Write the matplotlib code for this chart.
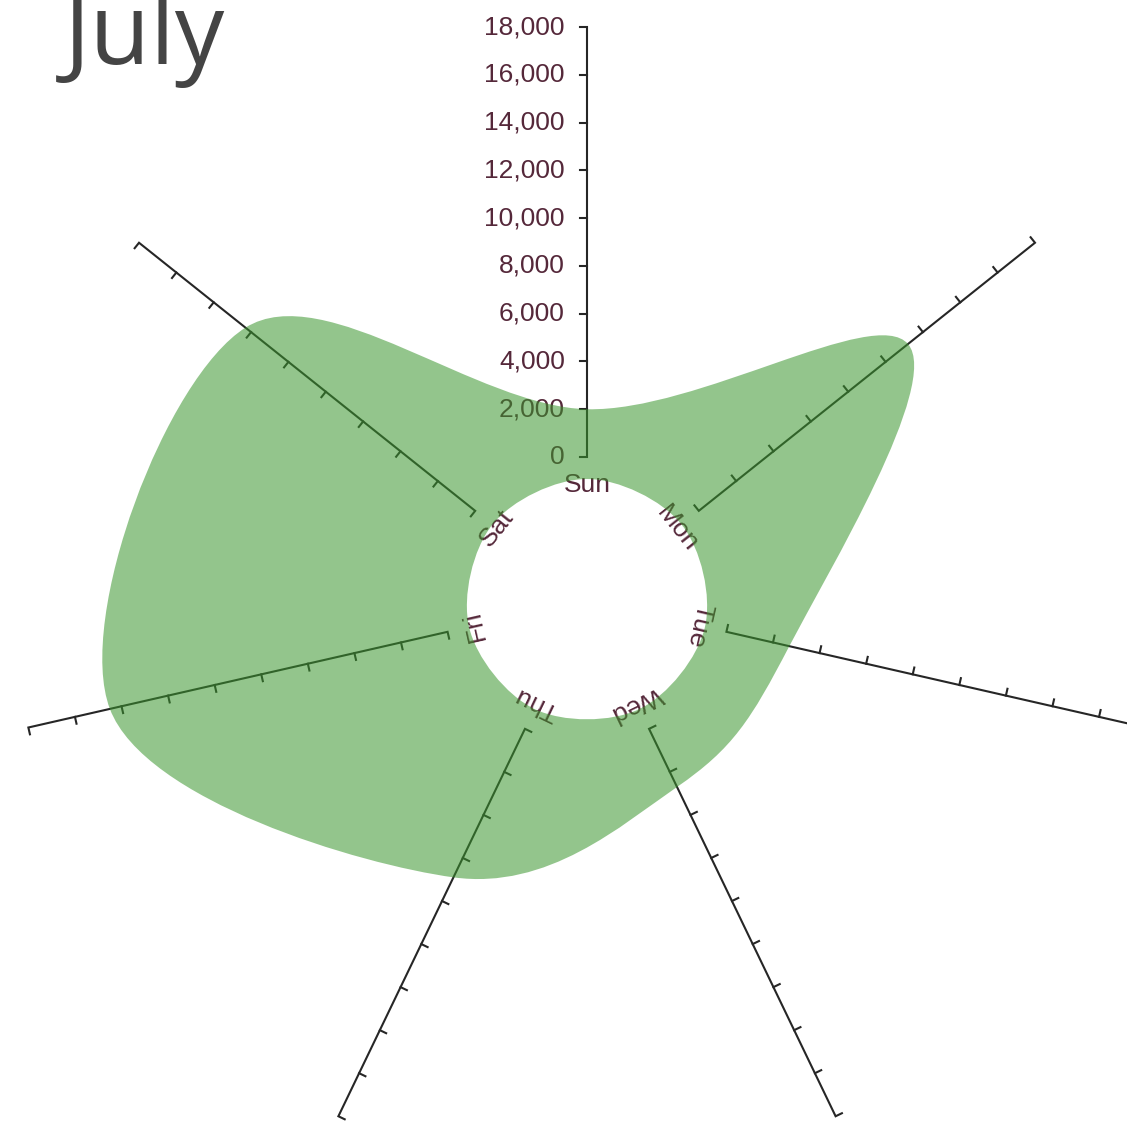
import numpy as np
import matplotlib.pyplot as plt
from matplotlib.path import Path
from matplotlib.patches import PathPatch

# data
days = ['Sun', 'Mon', 'Tue', 'Wed', 'Thu', 'Fri', 'Sat']
counts = [2000, 11200, 2700, 2700, 6900, 14500, 12300]
tick_values = [0, 2000, 4000, 6000, 8000, 10000, 12000, 14000, 16000, 18000]
tick_labels = ['0', '2,000', '4,000', '6,000', '8,000', '10,000',
               '12,000', '14,000', '16,000', '18,000']
title = 'July'

# layout (pixels)
W, H = 1127, 1131
cx, cy = 587, 600
r_hole = 121
r0, r1 = 143, 573
vmax = 18000
tick_len = 7
text_col = '#55283a'
line_col = '#262626'

def rscale(v):
    return r0 + (r1 - r0) * v / vmax

def pt(a, r):
    return np.array([cx + r * np.sin(a), cy - r * np.cos(a)])

def cardinal_closed(P):
    # closed catmull-rom (cardinal, tension 0) as cubic beziers
    n = len(P)
    verts = [P[0]]
    codes = [Path.MOVETO]
    for i in range(n):
        p0, p1, p2, p3 = P[i - 1], P[i], P[(i + 1) % n], P[(i + 2) % n]
        verts += [p1 + (p2 - p0) / 6, p2 - (p3 - p1) / 6, p2]
        codes += [Path.CURVE4] * 3
    return verts, codes

fig = plt.figure(figsize=(W / 100, H / 100), dpi=100)
ax = fig.add_axes([0, 0, 1, 1])
ax.set_xlim(0, W)
ax.set_ylim(H, 0)
ax.axis('off')

angles = np.arange(len(days)) * 2 * np.pi / len(days)

# axes for every day
for a, day in zip(angles, days):
    t = np.array([-np.cos(a), -np.sin(a)])  # tick side
    p_start = pt(a, rscale(0))
    p_end = pt(a, rscale(vmax))
    dom = np.array([p_start + tick_len * t, p_start, p_end, p_end + tick_len * t])
    ax.plot(dom[:, 0], dom[:, 1], color=line_col, lw=1.5, zorder=1,
            solid_joinstyle='miter')
    for v in tick_values[1:-1]:
        p = pt(a, rscale(v))
        q = p + tick_len * t
        ax.plot([p[0], q[0]], [p[1], q[1]], color=line_col, lw=1.5, zorder=1)
    # day label
    lp = pt(a, 115)
    ax.text(lp[0], lp[1], day, fontsize=19, color=text_col,
            family='Liberation Sans', ha='center', va='center',
            rotation=-np.degrees(a), rotation_mode='anchor', zorder=1)

# value labels on the Sun axis
for v, lab in zip(tick_values, tick_labels):
    p = pt(0, rscale(v))
    ax.text(p[0] - 22, p[1], lab, fontsize=19, color=text_col,
            family='Liberation Sans', ha='right', va='center', zorder=1)

# smooth area with hole
outer = [pt(a, rscale(v)) for a, v in zip(angles, counts)]
inner = [pt(a, r_hole) for a in angles][::-1]
v1, c1 = cardinal_closed(outer)
v2, c2 = cardinal_closed(inner)
path = Path(np.array(v1 + v2), c1 + c2)
ax.add_patch(PathPatch(path, facecolor='#3b962e', edgecolor='none',
                       alpha=0.55, zorder=2))

ax.text(64, 64, title, fontsize=71, color='#444444', family='Open Sans',
        ha='left', va='baseline')

fig.savefig('out.png', dpi=100)
